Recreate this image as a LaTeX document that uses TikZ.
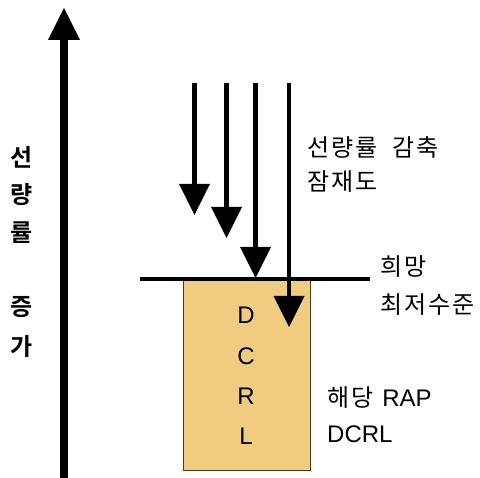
\documentclass[tikz,border=0pt]{standalone}
\usepackage{fontspec}
\setmainfont{Noto Sans CJK KR}[BoldFont={Noto Sans CJK KR Bold}]
\newfontfamily\lat{Liberation Sans}
\usetikzlibrary{arrows.meta}
\definecolor{boxfill}{RGB}{240,204,128}
\definecolor{boxedge}{RGB}{70,60,40}
\begin{document}
\begin{tikzpicture}[x=1pt,y=-1pt,
  bigarrow/.style={line width=8.5pt,-{Triangle[width=32pt,length=32pt,line width=0pt]}},
  downarrow/.style={line width=4.5pt,-{Triangle[width=31pt,length=31pt,line width=0pt]}},
  kr/.style={inner sep=0pt,font=\fontsize{24}{28}\selectfont\addfontfeature{LetterSpace=8}},
  krb/.style={inner sep=0pt,font=\fontsize{24}{28}\selectfont\bfseries},
  latl/.style={inner sep=0pt,font=\fontsize{24}{28}\selectfont\lat},
  levelline/.style={line width=3.3pt}]
\useasboundingbox (0,0) rectangle (480,478);
% box
\node[draw=boxedge,line width=1pt,fill=boxfill,minimum width=127pt,minimum height=190pt,anchor=north west,inner sep=0pt] (box) at (183,280) {};
% level line
\coordinate (l0) at (140,279);
\coordinate (l1) at (370,279);
\draw[levelline] (l0) -- (l1);
% big up arrow
\coordinate (b0) at (64,478);
\coordinate (b1) at (64,8);
\draw[bigarrow] (b0) -- (b1);
% down arrows
\coordinate (a1s) at (194.5,83); \coordinate (a1e) at (194.5,215);
\coordinate (a2s) at (226.5,83); \coordinate (a2e) at (226.5,238);
\coordinate (a3s) at (255.5,83); \coordinate (a3e) at (255.5,278);
\coordinate (a4s) at (289,83);   \coordinate (a4e) at (289,327);
\draw[downarrow] (a1s) -- (a1e);
\draw[downarrow] (a2s) -- (a2e);
\draw[downarrow] (a3s) -- (a3e);
\draw[downarrow] (a4s) -- (a4e);
% left vertical label
\node[krb] (v1) at (22,157) {선};
\node[krb] (v2) at (22,195) {량};
\node[krb] (v3) at (22,233) {률};
\node[krb] (v4) at (22,307) {증};
\node[krb] (v5) at (22,346) {가};
% box letters
\node[latl,anchor=base] (d1) at (246,324) {D};
\node[latl,anchor=base] (d2) at (246,365) {C};
\node[latl,anchor=base] (d3) at (246,405) {R};
\node[latl,anchor=base] (d4) at (246,445) {L};
% right labels
\node[kr,anchor=base west] (t1) at (307,157) {선량률\hspace{15pt}감축};
\node[kr,anchor=base west] (t2) at (307,191) {잠재도};
\node[kr,anchor=base west] (t3) at (380,276) {희망};
\node[kr,anchor=base west] (t4) at (380,314) {최저수준};
\node[kr,anchor=base west] (t5) at (327,407) {해당\hspace{9pt}{\lat\fontsize{24}{28}\selectfont RAP}};
\node[latl,anchor=base west] (t6) at (327,443) {DCRL};
\end{tikzpicture}
\end{document}
